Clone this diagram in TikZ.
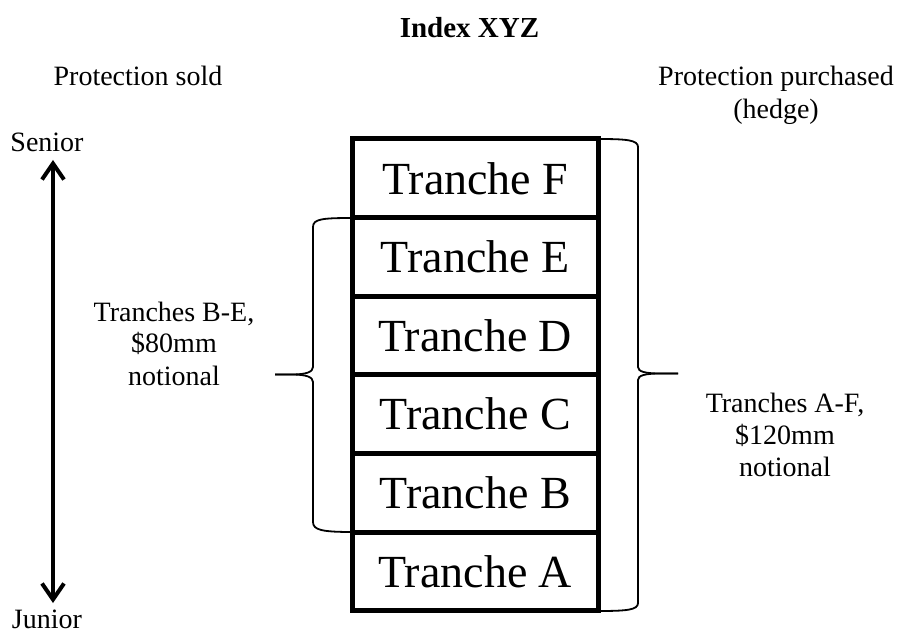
\documentclass[tikz,border=0pt]{standalone}
\usepackage{fontspec}
\setmainfont{Liberation Serif}
\usetikzlibrary{arrows.meta}
\begin{document}
\begin{tikzpicture}[x=1pt,y=1pt,
  lbl/.style={anchor=base,inner sep=0pt,font=\fontsize{28}{32}\selectfont},
  ttl/.style={anchor=base,inner sep=0pt,font=\bfseries\fontsize{29}{33}\selectfont},
  tranche/.style={draw,line width=5pt,minimum width=245.5pt,minimum height=78.6pt,inner sep=0pt,font=\fontsize{46}{50}\selectfont},
  bracket/.style={line width=1.8pt,line join=round},
  axis/.style={line width=4pt,{Straight Barb[length=16pt,width=22pt]}-{Straight Barb[length=16pt,width=22pt]}}
]
\useasboundingbox (0,0) rectangle (908,633);
% title and headings
\node[ttl] (title) at (469.5,595) {Index XYZ};
\node[lbl] (sold) at (138,547) {Protection sold};
\node[lbl] (purch1) at (776,547) {Protection purchased};
\node[lbl] (purch2) at (776,514) {(hedge)};
% seniority axis
\node[lbl] (senior) at (47,481) {Senior};
\node[lbl] (junior) at (47,5) {Junior};
\coordinate (aTop) at (53,473);
\coordinate (aBot) at (53,30);
\draw[axis] (aTop) -- (aBot);
% tranche stack
\node[tranche] (trF) at (475.25,454.7) {Tranche F};
\node[tranche] (trE) at (475.25,376.1) {Tranche E};
\node[tranche] (trD) at (475.25,297.5) {Tranche D};
\node[tranche] (trC) at (475.25,218.9) {Tranche C};
\node[tranche] (trB) at (475.25,140.3) {Tranche B};
\node[tranche] (trA) at (475.25,61.7) {Tranche A};
% left brace (B-E)
\draw[bracket] (352.5,415) .. controls (322,415) and (313,414) .. (313,406)
  -- (313,266) .. controls (313,261) and (306,258.5) .. (292,258.5) -- (275,258.5);
\draw[bracket] (275,258.5) -- (292,258.5) .. controls (306,258.5) and (313,256) .. (313,251)
  -- (313,111) .. controls (313,103) and (322,101) .. (352.5,101);
% right brace (A-F)
\draw[bracket] (598,494) .. controls (627,494) and (638,493) .. (638,486)
  -- (638,266) .. controls (638,261.5) and (645,259.5) .. (660,259.5) -- (678,259.5);
\draw[bracket] (678,259.5) -- (660,259.5) .. controls (645,259.5) and (638,257.5) .. (638,253)
  -- (638,30) .. controls (638,23) and (627,22) .. (598,22);
% brace labels
\node[lbl] (le1) at (174,312) {Tranches B-E,};
\node[lbl] (le2) at (174,280) {\$80mm};
\node[lbl] (le3) at (174,248) {notional};
\node[lbl] (ri1) at (785,221) {Tranches A-F,};
\node[lbl] (ri2) at (785,189) {\$120mm};
\node[lbl] (ri3) at (785,157) {notional};
\end{tikzpicture}
\end{document}
